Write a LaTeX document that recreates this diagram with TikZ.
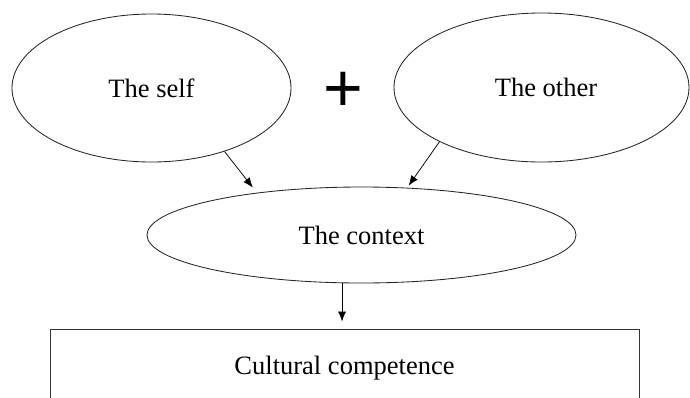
\documentclass[tikz,border=0pt]{standalone}
\usepackage{fontspec}
\setmainfont{Liberation Serif}
\newfontfamily\plusfont{Liberation Sans}
\usetikzlibrary{shapes.geometric,arrows.meta}

\tikzset{
  bubble/.style={ellipse, draw=black!85, line width=0.85pt, inner sep=0pt,
    font=\fontsize{26.5}{31}\selectfont},
  framebox/.style={rectangle, draw=black!80, line width=0.85pt, inner sep=0pt,
    font=\fontsize{26.5}{31}\selectfont},
  flow/.style={draw=black, line width=0.75pt,
    -{Latex[length=10pt,width=8pt]}},
}

\begin{document}
\begin{tikzpicture}[x=1pt,y=-1pt]
  \useasboundingbox (0,0) rectangle (690,397);
  \clip (0,0) rectangle (690,397);

  % the two starting ideas
  \node[bubble, minimum width=279pt, minimum height=148pt] (self) at (151.5,88) {The self};
  \node[bubble, minimum width=295pt, minimum height=149pt] (other) at (541.5,87.5) {\hspace{9pt}The other};
  \node[font=\plusfont\fontsize{68}{70}\selectfont, inner sep=0pt] (plus) at (343,92) {+};

  % where they meet
  \node[bubble, minimum width=429pt, minimum height=96pt] (context) at (361.5,235) {The context};

  % outcome (frame runs past the lower edge)
  \node[framebox, minimum width=589pt, minimum height=78pt] (result) at (344.5,368) {Cultural competence};

  % connectors
  \draw[flow, shorten >=6.5pt] (self.-41.9) -- (context.158.15);
  \draw[flow, shorten >=2.5pt] (other.-152) -- (context.46.5);
  \draw[flow, shorten >=7pt] (context.-112.2) -- (context.-112.2 |- result.north);
\end{tikzpicture}
\end{document}
